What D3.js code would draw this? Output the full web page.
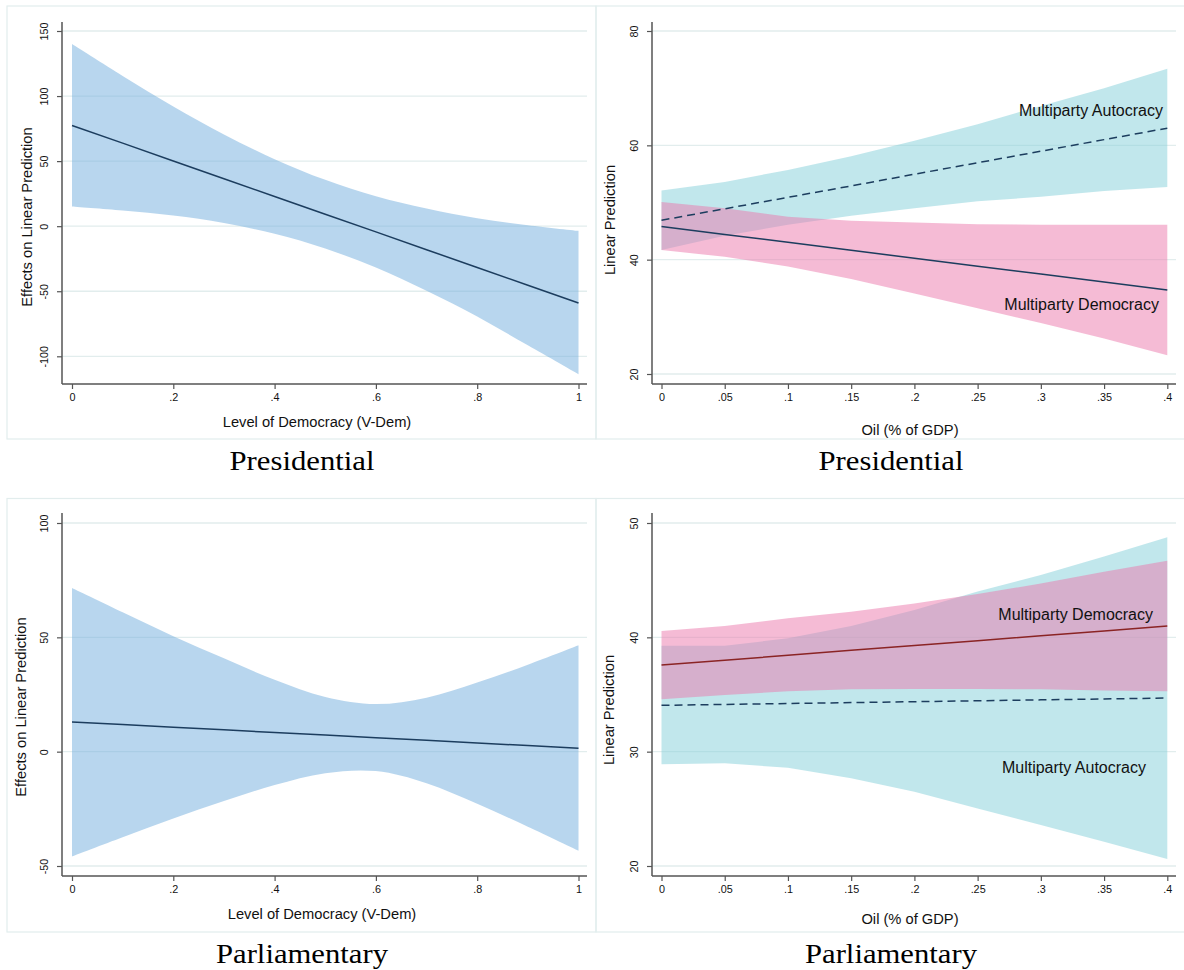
<!DOCTYPE html>
<html><head><meta charset="utf-8">
<script src="https://cdn.jsdelivr.net/npm/d3@7"></script>
<style>body{margin:0;background:#fff}svg{display:block}</style>
</head><body>
<svg id="c" width="1184" height="970"></svg>
<script>
// ---------- DATA ----------
const vdemX = [0, .1, .2, .3, .4, .5, .6, .7, .8, .9, 1];
const presEffect = [77.4, 63.8, 50.1, 36.5, 22.8, 9.2, -4.4, -18.1, -31.7, -45.4, -59];
const presUpper  = [140, 115.5, 92, 70.5, 51.5, 35.6, 23, 13.5, 6, 0.8, -3.6];
const presLower  = [15.2, 12.1, 8.2, 2.5, -5.9, -17.2, -31.8, -49.7, -69.4, -91.6, -113.8];

const parlEffect = [13, 11.85, 10.7, 9.55, 8.4, 7.25, 6.1, 4.95, 3.8, 2.65, 1.5];
const parlUpper  = [71.6, 61, 50.5, 40.8, 31.4, 23.9, 20.8, 23.6, 30.2, 38, 46.5];
const parlLower  = [-45.8, -37.4, -29.2, -21.6, -14.6, -9.4, -8.5, -13.8, -22.8, -32.8, -43.3];

const oilX = [0, .05, .1, .15, .2, .25, .3, .35, .4];
const presAutoPred  = [46.9, 48.9, 50.9, 52.9, 54.95, 56.95, 58.97, 61.0, 63.0];
const presAutoUpper = [52.1, 53.6, 55.7, 58.1, 60.8, 63.7, 66.9, 70.0, 73.4];
const presAutoLower = [41.7, 44.2, 46.1, 47.7, 49.0, 50.2, 51.0, 52.0, 52.7];
const presDemoPred  = [45.8, 44.41, 43.03, 41.64, 40.25, 38.86, 37.48, 36.09, 34.7];
const presDemoUpper = [50.1, 49.0, 47.5, 46.8, 46.5, 46.2, 46.1, 46.1, 46.1];
const presDemoLower = [41.7, 40.5, 38.8, 36.6, 34.1, 31.5, 28.9, 26.2, 23.3];

const parlAutoPred  = [34.05, 34.13, 34.21, 34.29, 34.37, 34.45, 34.53, 34.61, 34.69];
const parlAutoUpper = [39.27, 39.27, 39.91, 40.99, 42.39, 44.0, 45.45, 47.06, 48.75];
const parlAutoLower = [28.89, 28.98, 28.6, 27.67, 26.5, 25.04, 23.59, 22.13, 20.61];
const parlDemoPred  = [37.58, 38.0, 38.43, 38.86, 39.29, 39.71, 40.14, 40.56, 40.99];
const parlDemoUpper = [40.55, 41.0, 41.66, 42.24, 42.97, 43.79, 44.7, 45.74, 46.7];
const parlDemoLower = [34.58, 34.96, 35.28, 35.45, 35.48, 35.48, 35.45, 35.36, 35.28];

const vdemTicks = [0, .2, .4, .6, .8, 1];
const oilTicks = [0, .05, .1, .15, .2, .25, .3, .35, .4];
const presEffectTicks = [-100, -50, 0, 50, 100, 150];
const parlEffectTicks = [-50, 0, 50, 100];
const presPredTicks = [20, 40, 60, 80];
const parlPredTicks = [20, 30, 40, 50];

const xTitleVdem = "Level of Democracy (V-Dem)";
const xTitleOil = "Oil (% of GDP)";
const yTitleEffect = "Effects on Linear Prediction";
const yTitlePred = "Linear Prediction";
const captions = ["Presidential", "Presidential", "Parliamentary", "Parliamentary"];
const groupLabels = ["Multiparty Autocracy", "Multiparty Democracy"];

// ---------- STYLE ----------
const C = {
  blue: "rgb(113,173,221)", teal: "rgb(131,207,217)", pink: "rgb(235,119,171)",
  navy: "#1c3d5e", red: "#8a2424", grid: "#e2eded", frame: "#e2eded", axis: "#555"
};
const sans = "'Liberation Sans', Arial, sans-serif";
const serif = "'Liberation Serif', 'Times New Roman', serif";

const svg = d3.select("#c");

function fmt(v) {
  if (v === 0) return "0";
  if (Math.abs(v) < 1) return String(v).replace("0.", ".");
  return String(v);
}

function panel(p) {
  const g = svg.append("g");
  g.append("rect").attr("x", p.frame[0]).attr("y", p.frame[1])
    .attr("width", p.frame[2] - p.frame[0]).attr("height", p.frame[3] - p.frame[1])
    .attr("fill", "none").attr("stroke", C.frame).attr("stroke-width", 1.2);

  const x = d3.scaleLinear().domain(p.xDomain).range(p.xRange);
  const y = d3.scaleLinear().domain(p.yDomain).range(p.yRange);

  g.append("g").selectAll("line").data(p.yTicks).join("line")
    .attr("x1", p.axisX).attr("x2", p.axisRight)
    .attr("y1", d => y(d)).attr("y2", d => y(d))
    .attr("stroke", C.grid).attr("stroke-width", 1.3);

  p.series.forEach(s => {
    const area = d3.area().x((d, i) => x(s.x[i])).y0((d, i) => y(s.lo[i])).y1((d, i) => y(s.hi[i]))
      .curve(s.curve || d3.curveLinear);
    g.append("path").attr("d", area(s.x)).attr("fill", s.fill).attr("fill-opacity", 0.5);
  });
  p.series.forEach(s => {
    const line = d3.line().x((d, i) => x(s.x[i])).y((d, i) => y(s.pred[i]));
    g.append("path").attr("d", line(s.x)).attr("fill", "none")
      .attr("stroke", s.stroke).attr("stroke-width", 1.5)
      .attr("stroke-dasharray", s.dash || null);
  });

  const ax = g.append("g").attr("transform", `translate(0,${p.axisY})`)
    .call(d3.axisBottom(x).tickValues(p.xTicks).tickFormat(fmt).tickSize(5).tickSizeOuter(0).tickPadding(4.8));
  ax.select(".domain").remove();
  ax.selectAll("line").attr("stroke", C.axis).attr("stroke-width", 1.2);
  ax.selectAll("text").attr("font-family", sans).attr("font-size", 10.8).attr("fill", "#111");

  const ay = g.append("g").attr("transform", `translate(${p.axisX},0)`)
    .call(d3.axisLeft(y).tickValues(p.yTicks).tickFormat(fmt).tickSize(5).tickSizeOuter(0));
  ay.select(".domain").remove();
  ay.selectAll("line").attr("stroke", C.axis).attr("stroke-width", 1.2);
  ay.selectAll("text").attr("x", 0).attr("dy", 0).attr("text-anchor", "middle")
    .attr("transform", "translate(-14,0) rotate(-90)")
    .attr("font-family", sans).attr("font-size", 10.8).attr("fill", "#111");

  g.append("line").attr("x1", p.axisX).attr("x2", p.axisX).attr("y1", p.axisTop).attr("y2", p.axisY)
    .attr("stroke", C.axis).attr("stroke-width", 1.5);
  g.append("line").attr("x1", p.axisX).attr("x2", p.axisRight).attr("y1", p.axisY).attr("y2", p.axisY)
    .attr("stroke", C.axis).attr("stroke-width", 1.5);

  g.append("text").attr("x", p.xTitlePos[0]).attr("y", p.xTitlePos[1]).attr("text-anchor", "middle")
    .attr("font-family", sans).attr("font-size", 14.7).attr("fill", "#111").text(p.xTitle);
  g.append("text").attr("transform", `translate(${p.yTitlePos[0]},${p.yTitlePos[1]}) rotate(-90)`)
    .attr("text-anchor", "middle").attr("font-family", sans).attr("font-size", 14.7).attr("fill", "#111")
    .text(p.yTitle);
  g.append("text").attr("x", p.capPos[0]).attr("y", p.capPos[1]).attr("text-anchor", "middle")
    .attr("font-family", serif).attr("font-size", 28).attr("fill", "#000")
    .attr("textLength", p.capLen).attr("lengthAdjust", "spacingAndGlyphs").text(p.caption);
  (p.labels || []).forEach(l => {
    g.append("text").attr("x", l[1]).attr("y", l[2]).attr("text-anchor", "end")
      .attr("font-family", sans).attr("font-size", 16).attr("fill", "#111").text(l[0]);
  });
}

panel({
  frame: [7, 6, 596, 439],
  axisX: 62, axisTop: 22, axisY: 384, axisRight: 587,
  xDomain: [0, 1], xRange: [72, 578.5], yDomain: [-100, 150], yRange: [356.3, 31],
  xTicks: vdemTicks, yTicks: presEffectTicks,
  xTitle: xTitleVdem, xTitlePos: [317, 427], yTitle: yTitleEffect, yTitlePos: [32, 217],
  caption: captions[0], capPos: [302, 470], capLen: 145,
  series: [{ x: vdemX, pred: presEffect, lo: presLower, hi: presUpper, fill: C.blue, stroke: C.navy, curve: d3.curveCatmullRom }]
});
panel({
  frame: [596, 6, 1190, 439],
  axisX: 652, axisTop: 22, axisY: 384, axisRight: 1176,
  xDomain: [0, .4], xRange: [661.5, 1167.3], yDomain: [20, 80], yRange: [374, 31],
  xTicks: oilTicks, yTicks: presPredTicks,
  xTitle: xTitleOil, xTitlePos: [910, 434.5], yTitle: yTitlePred, yTitlePos: [614.5, 220],
  caption: captions[1], capPos: [891, 470], capLen: 145,
  series: [
    { x: oilX, pred: presAutoPred, lo: presAutoLower, hi: presAutoUpper, fill: C.teal, stroke: C.navy, dash: "8,5" },
    { x: oilX, pred: presDemoPred, lo: presDemoLower, hi: presDemoUpper, fill: C.pink, stroke: C.navy }
  ],
  labels: [[groupLabels[0], 1163, 116], [groupLabels[1], 1159, 310]]
});
panel({
  frame: [7, 498.5, 596, 932],
  axisX: 62, axisTop: 513, axisY: 876, axisRight: 587,
  xDomain: [0, 1], xRange: [72, 578.5], yDomain: [-50, 100], yRange: [866, 523],
  xTicks: vdemTicks, yTicks: parlEffectTicks,
  xTitle: xTitleVdem, xTitlePos: [322, 918.5], yTitle: yTitleEffect, yTitlePos: [26, 707],
  caption: captions[2], capPos: [302, 963], capLen: 172,
  series: [{ x: vdemX, pred: parlEffect, lo: parlLower, hi: parlUpper, fill: C.blue, stroke: C.navy, curve: d3.curveCatmullRom }]
});
panel({
  frame: [596, 498.5, 1190, 932],
  axisX: 652, axisTop: 513, axisY: 876, axisRight: 1176,
  xDomain: [0, .4], xRange: [661.5, 1167.3], yDomain: [20, 50], yRange: [866, 523],
  xTicks: oilTicks, yTicks: parlPredTicks,
  xTitle: xTitleOil, xTitlePos: [910, 923.5], yTitle: yTitlePred, yTitlePos: [614, 710],
  caption: captions[3], capPos: [891, 963], capLen: 172,
  series: [
    { x: oilX, pred: parlAutoPred, lo: parlAutoLower, hi: parlAutoUpper, fill: C.teal, stroke: C.navy, dash: "8,5" },
    { x: oilX, pred: parlDemoPred, lo: parlDemoLower, hi: parlDemoUpper, fill: C.pink, stroke: C.red }
  ],
  labels: [[groupLabels[1], 1153, 620], [groupLabels[0], 1146, 773]]
});
</script>
</body></html>
